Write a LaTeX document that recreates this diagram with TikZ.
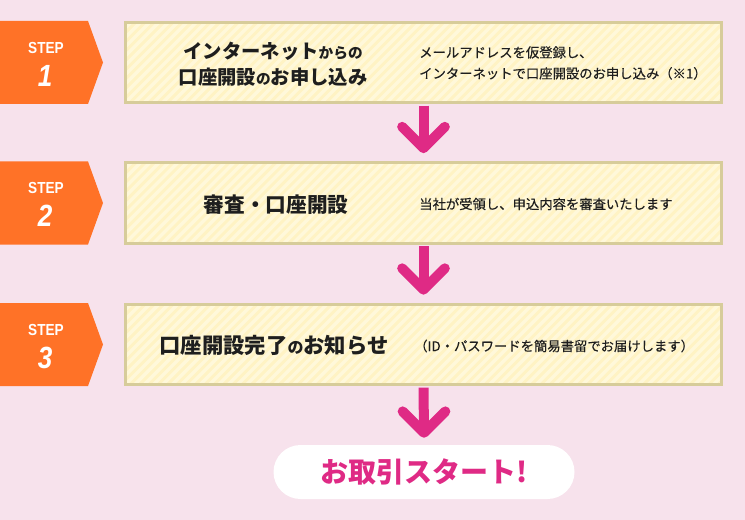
\documentclass[tikz,border=0pt]{standalone}
\usepackage{fontspec}
\usepackage{tikz}
\usetikzlibrary{positioning}
\usepackage{xcolor}

\setmainfont{Noto Sans CJK JP}
\newfontfamily\notefont[FakeBold=0.3]{Noto Sans CJK JP}
\newfontfamily\stepfont[FakeStretch=0.85]{Liberation Sans}

\definecolor{bgpink}{HTML}{F7E2EC}
\definecolor{steporange}{HTML}{FF7227}
\definecolor{boxline}{HTML}{D7CC9A}
\definecolor{boxfill}{HTML}{FFF3C4}
\definecolor{stripe}{HTML}{FFF8DA}
\definecolor{flowpink}{HTML}{DF2A85}
\definecolor{textdark}{HTML}{1E1E1E}

\begin{document}
\begin{tikzpicture}[x=0.75pt, y=-0.75pt,
    box/.style={draw=boxline, line width=2.25pt, fill=boxfill, inner sep=0pt,
        minimum width=447pt, minimum height=60pt,
        path picture={
            \foreach \k in {0,...,75}
                \draw[stripe, line width=2.5pt]
                    ([xshift=\k*7pt-70pt]path picture bounding box.south west) -- ++(70pt,70pt);
        }},
    steplabel/.style={text=white, font=\stepfont\bfseries\fontsize{12}{12}\selectfont, inner sep=0pt},
    stepnum/.style={text=white, font=\stepfont\bfseries\itshape\fontsize{23}{23}\selectfont, inner sep=0pt},
    title/.style={text=textdark, font=\bfseries\fontsize{14.5}{19.5}\selectfont, align=center, inner sep=0pt},
    note/.style={text=textdark, font=\notefont\fontsize{10}{15.75}\selectfont, align=left, anchor=west, inner sep=0pt},
    shaft/.style={draw=flowpink, line width=7.5pt},
    chevron/.style={draw=flowpink, line width=7.5pt, line cap=round, line join=round}]

    % Background
    \fill[bgpink] (0,0) rectangle (745,520);

    % Step tags (1-3)
    \foreach \n/\y in {1/62.5, 2/203, 3/344.5} {
        \fill[steporange] (0,{\y-41.5}) -- (88,{\y-41.5}) -- (103,\y) -- (88,{\y+41.5}) -- (0,{\y+41.5}) -- cycle;
        \node[steplabel] (tag\n) at (46,{\y-15}) {STEP};
        \node[stepnum] (num\n) at (45,{\y+13}) {\n};
    }

    % Step boxes
    \node[box] (box1) at (423.5,62.5) {};
    \node[box] (box2) at (423.5,203) {};
    \node[box] (box3) at (423.5,344.5) {};

    % Box texts
    \node[title] (title1) at (273,64) {インターネット{\fontsize{11}{19.5}\selectfont からの}\\口座開設{\fontsize{11}{19.5}\selectfont の}お申し込み};
    \node[note] (note1) at (419,63) {メールアドレスを仮登録し、\\インターネットで口座開設のお申し込み（※1）};
    \node[title, font=\bfseries\fontsize{15.5}{19.5}\selectfont] (title2) at (276,205) {審査・口座開設};
    \node[note] (note2) at (419,204) {当社が受領し、申込内容を審査いたします};
    \node[title, font=\bfseries\fontsize{16}{19.5}\selectfont] (title3) at (274,345) {口座開設完了{\fontsize{12}{19.5}\selectfont の}お知らせ};
    \node[note] (note3) at (414,346) {（ID・パスワードを簡易書留でお届けします）};

    % Goal
    \node[fill=white, rounded corners=20.25pt, minimum width=225.75pt, minimum height=40.5pt,
        text=flowpink, font=\bfseries\fontsize{21}{21}\selectfont] (start) at (424,472) {お取引スタート!};

    % Arrows between the steps
    \coordinate (tip1) at ([yshift=10pt]box2.north);
    \coordinate (tip2) at ([yshift=10pt]box3.north);
    \coordinate (tip3) at ([yshift=9pt]start.north);
    \draw[shaft] ([yshift=-1.2pt]box1.south) -- (tip1);
    \draw[shaft] ([yshift=-1.2pt]box2.south) -- (tip2);
    \draw[shaft] ([yshift=-1.2pt]box3.south) -- (tip3);
    \foreach \t in {tip1, tip2, tip3}
        \draw[chevron] (\t) ++(-16pt,16pt) -- (\t) -- ++(16pt,16pt);
\end{tikzpicture}
\end{document}
